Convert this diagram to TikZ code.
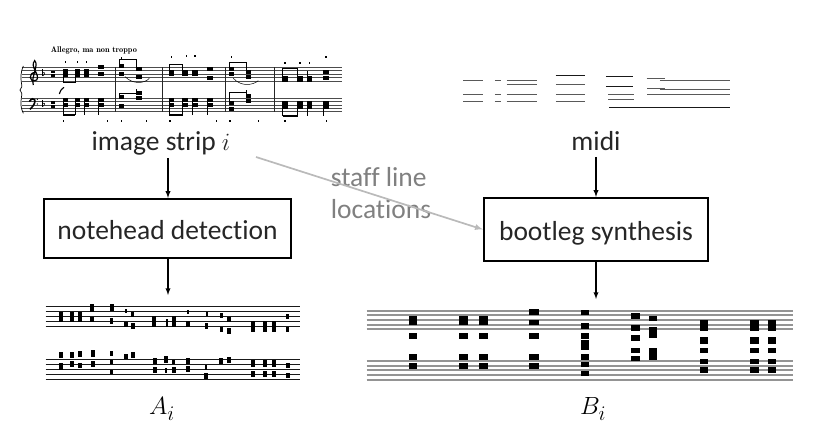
\documentclass[tikz,border=0pt]{standalone}
\usepackage{amsmath}
\usepackage{fontspec}
\setmainfont[Ligatures=NoCommon]{Carlito}
\usetikzlibrary{arrows,positioning}

\begin{document}
\begin{tikzpicture}[
        x=1pt, y=-1pt,
        basic/.style  = {inner sep=0pt, text=black!85, font=\fontsize{27.5}{32}\selectfont},
        stepbox/.style = {basic, draw=black, line width=2.2pt, align=center, minimum height=59pt, text height=22pt, text depth=0pt},
        hint/.style = {basic, text=black!50, align=left, font=\fontsize{27.5}{32}\selectfont},
        flow/.style = {->, >=latex, line width=1.3pt},
        hintflow/.style = {->, >=latex, draw=black!27, line width=1.7pt},
        % the small crops are typed in 3x reference pixels
        score/.style = {shift={(0,30)}, x=0.3333pt, y=-0.3333pt},
        strip a/.style = {shift={(30,295)}, x=0.3333pt, y=-0.3333pt},
        strip b/.style = {shift={(360,295)}, x=0.3333pt, y=-0.3333pt},
        tones/.style = {shift={(440,60)}, x=0.3333pt, y=-0.3333pt}]

        \useasboundingbox (0,0) rectangle (814,436);

        % labels and boxes
        \node[basic] (strip) at (161,143) {image strip \(i\)};
        \node[basic] (midi) at (596,141) {midi};
        \node[stepbox, minimum width=247pt] (detect) at (167.5,228.5) {notehead detection};
        \node[stepbox, minimum width=224pt, minimum height=63pt] (synth) at (596,229.5) {bootleg synthesis};
        \node[hint] (staffs) at (381,193) {staff line\\locations};
        \node[basic, text=black] (ai) at (162,409) {\(A_i\)};
        \node[basic, text=black] (bi) at (593,409) {\(B_i\)};
        \coordinate (aitop) at (168,295);
        \coordinate (bitop) at (596,299);
        \coordinate (hintstart) at (256,157);
        \coordinate (stripend) at (168,158);

        % connectors
        \draw[flow] (stripend) -- (stripend |- detect.north);
        \draw[flow] (detect.south -| aitop) -- (aitop);
        \draw[flow] (midi.south) ++(0,6) -- (synth.north);
        \draw[flow] (synth.south) -- (bitop);
        \draw[hintflow] (hintstart) -- (synth.west);

        % the printed score
        \begin{scope}[score]
            \foreach \yy in {112,122,133,143,153,205,215,225,235,245}
            \draw[black!70, line width=0.7pt] (65,\yy) -- (1025,\yy);
            \foreach \xx in {345,487,675,822}
            \draw[black!85, line width=0.6pt] (\xx,112) -- (\xx,245);
            \draw[line width=0.7pt] (70,108) .. controls (52,150) and (75,170) .. (60,180) .. controls (75,190) and (52,215) .. (70,250);
            % clefs, key and time
            \draw[line width=1.2pt] (100,165) .. controls (92,140) and (118,105) .. (104,92) .. controls (88,110) and (122,135) .. (110,150) .. controls (85,162) and (85,125) .. (106,128);
            \draw[line width=1.6pt] (88,215) .. controls (100,195) and (118,212) .. (90,238);
            \fill (112,208) circle (2.2);
            \fill (112,222) circle (2.2);
            \foreach \yy in {130,222}{
                \draw[line width=0.5pt] (128,\yy-12) -- (128,\yy+8);
                \draw[line width=0.5pt] (128,\yy+8) .. controls (140,\yy) and (132,\yy-6) .. (128,\yy);
                \fill (154,\yy-8) rectangle (164,\yy-1);
                \fill (154,\yy+3) rectangle (164,\yy+11);
            }
            \draw[line width=1.1pt] (178,192) .. controls (182,180) and (186,175) .. (192,172);
            \foreach \xx/\ya/\yb/\yc in {197/122/135/158,232/122/135/158,260/122/135/122,303/112/133/112,
                    365/108/133/88,417/118/140/88,515/133/125/103,555/133/125/103,585/133/125/125,630/118/143/118,
                    695/118/133/97,745/125/140/97,855/143/150/115,900/143/150/115,928/143/150/122,978/125/143/125,
                    197/210/225/255,232/210/225/255,260/210/225/255,303/210/225/255,
                    365/200/228/190,417/190/203/178,515/210/225/255,555/210/225/255,585/210/225/255,630/210/225/255,
                    695/218/238/188,745/198/212/180,855/218/232/258,900/218/232/258,928/218/232/258,978/218/232/258}{
                \fill (\xx-8,\ya-6) rectangle (\xx+8,\ya+6);
                \fill (\xx-8,\yb-6) rectangle (\xx+8,\yb+6);
                \draw[line width=0.6pt] (\xx-7,\ya) -- (\xx-7,\yc);
            }
            \foreach \xa/\xb/\yy in {197/232/158,365/417/88,515/555/103,695/745/97,855/900/115,197/232/255,515/555/255,365/417/190,695/745/188,855/900/258}
            \draw[line width=1.6pt] (\xa-7,\yy) -- (\xb-7,\yy);
            \draw[line width=0.5pt] (375,140) .. controls (400,165) and (435,160) .. (448,145);
            \draw[line width=0.5pt] (700,145) .. controls (725,172) and (760,165) .. (775,152);
            % small marks above and below the staves
            \foreach \xx/\yy in {197/97,232/97,260/97,365/85,515/82,560/78,585/78,695/80,855/98,900/98,928/98,978/82,
                    190/272,322/272,365/272,440/272,510/272,650/272,690/272,775/272,855/272,980/272}
            \fill (\xx-2,\yy-3) rectangle (\xx+2,\yy+3);
            \node[inner sep=0pt, anchor=west, font=\fontfamily{lmr}\bfseries\fontsize{8.3}{9}\selectfont] (tempo) at (152,62) {Allegro, ma non troppo};
        \end{scope}

        % the midi lines
        \begin{scope}[tones, black!65, line width=0.8pt]
            \foreach \xa/\xb in {70/130,165/183,200/290,348/436}
            \foreach \yy in {102,125}
            \draw (\xa,\yy) -- (\xb,\yy);
            \foreach \xa/\xb/\yy in {70/130/62,165/183/62,200/290/62,200/290/72,348/436/72,
                    505/582/102,505/582/118,620/675/56,622/675/85,622/870/102,660/870/62,660/870/88}
            \draw (\xa,\yy) -- (\xb,\yy);
            \draw[black!90] (347,45) -- (436,45);
            \draw[black!90] (498,48) -- (578,48);
            \draw[black!90] (498,78) -- (578,78);
            \draw[black!90] (508,142) -- (870,142);
        \end{scope}

        % notehead detection strip
        \begin{scope}[strip a]
            \foreach \yy in {35,50,65,80,95,193,208,223,238,253}
            \draw[black!90, line width=1.2pt] (47,\yy) -- (810,\yy);
            \foreach \xx/\yt/\yb/\ww in {94/52/80/6,127/50/80/6,150/50/80/6,186/28/50/6,186/66/80/6,245/28/48/6,245/70/88/5,288/42/55/4,288/80/95/5,
                    308/50/65/5,308/85/102/6,372/62/95/6,410/72/95/3,431/62/95/6,474/45/57/3,474/78/95/5,530/50/62/3,530/85/102/5,
                    574/55/70/5,574/95/110/5,597/65/80/6,597/100/118/6,668/78/110/6,706/78/110/6,731/78/110/6,773/57/72/5,773/95/110/5,
                    94/170/188/6,94/203/226/6,127/170/188/6,127/198/215/6,150/168/185/6,150/203/218/6,189/165/185/5,189/198/215/5,
                    244/167/182/4,244/195/208/5,244/225/238/4,288/176/193/6,308/170/188/6,375/190/207/5,375/215/233/6,408/183/203/6,408/220/235/4,
                    431/195/208/4,431/215/233/6,474/190/207/6,474/213/232/5,528/210/226/4,528/235/253/6,574/190/207/6,597/185/203/6,
                    668/195/215/6,668/228/245/6,706/195/215/6,706/228/245/6,731/195/215/6,731/228/245/6,773/203/220/6,773/233/248/6}
            \fill (\xx-\ww,\yt) rectangle (\xx+\ww,\yb);
        \end{scope}

        % bootleg synthesis strip
        \begin{scope}[strip b]
            \foreach \yy in {47,61,75,89,103,198,212,226,240,254}
            \draw[black!42, line width=2.2pt] (20,\yy) -- (1298,\yy);
            \foreach \xx in {159,310,371}
            \foreach \yt/\yb in {62/90,113/131,178/196,204/222}
            \fill (\xx-13,\yt) rectangle (\xx+13,\yb);
            \foreach \yt/\yb in {43/61,75/91,113/131,178/196,204/222}
            \fill (508,\yt) rectangle (538,\yb);
            \foreach \yt/\yb in {46/61,83/101,113/131,135/165,178/196,200/217,227/244}
            \fill (662,\yt) rectangle (688,\yb);
            \foreach \yt/\yb in {55/71,91/108,119/137,158/175,182/198}
            \fill (813,\yt) rectangle (839,\yb);
            \foreach \yt/\yb in {62/79,97/130,160/196}
            \fill (866,\yt) rectangle (892,\yb);
            \foreach \xx in {1032,1183,1236}
            \foreach \yt/\yb in {75/108,127/146,158/175,191/208,217/235}
            \fill (\xx-13,\yt) rectangle (\xx+13,\yb);
        \end{scope}
\end{tikzpicture}
\end{document}
